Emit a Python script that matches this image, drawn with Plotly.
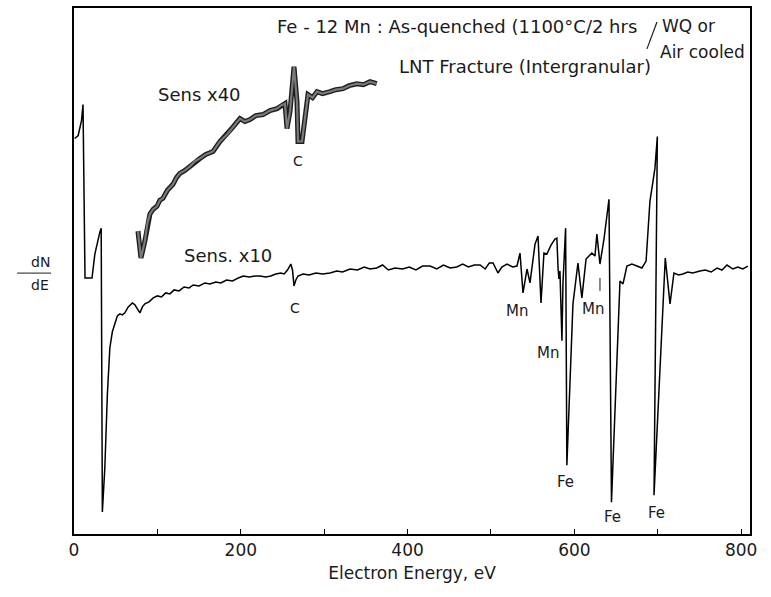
import plotly.graph_objects as go

# ---- Data (arbitrary dN/dE units) ----
# Lower trace: Sens. x10
x10_energy = [0.8, 5, 9, 10.8, 13.2, 21.6, 25, 28.8, 31, 32.6, 34, 37, 40, 43, 46, 49, 52, 55, 58, 61,
              65, 70, 73, 76, 79, 82, 85, 90, 95, 100, 105, 110, 115, 120, 126, 132, 138, 143, 150, 157,
              163, 170, 176, 183, 190, 197, 203, 210, 217, 223, 230, 236, 242, 248, 252, 256, 260, 262,
              263.8, 266, 268.6, 274.6, 282, 290, 298, 307, 315, 322, 331, 340, 348, 355, 363, 370, 377,
              385, 394, 402, 410, 418, 427, 435, 443, 451, 459, 466, 473, 480, 487, 493, 498, 502.5, 505,
              508.4, 513, 519.2, 526, 531.2, 534.8, 538.4, 543.2, 546.8, 552.8, 556.4, 560, 563.5, 567,
              572, 576.7, 579, 580.5, 581.5, 582.7, 585.1, 586.3, 589.5, 591, 598.3, 604.3, 609, 614,
              618, 621, 624.7, 627, 630.7, 635.5, 641.5, 644.5, 654.7, 658.3, 663, 669, 675, 681, 686,
              690.6, 696.6, 699.5, 695.5, 709, 714.7, 719.4, 725, 730, 736, 742, 750.6, 757, 764, 771,
              777, 783, 790, 796, 802, 808]
x10_signal = [397, 400, 415, 431, 257, 257, 281, 297, 303, 307, 22, 67, 140, 187, 203, 211, 219, 221, 220, 222,
              228, 232, 230, 226, 222, 228, 231, 233, 237, 239, 238, 242, 241, 245, 244, 248, 247, 250, 249, 252,
              251, 253, 252, 255, 254, 257, 259, 258, 259, 259, 258, 259, 261, 262, 261, 265, 271, 265,
              249, 255, 259, 261, 260, 262, 261, 262, 264, 263, 266, 265, 268, 266, 267, 270, 265,
              267, 266, 268, 265, 269, 269, 266, 270, 267, 268, 271, 268, 270, 270, 266, 272, 272, 268,
              262, 268, 271, 268, 269, 282, 242, 266, 252, 291, 299, 232, 282, 281,
              290, 296, 297, 266, 256, 264, 194, 251, 307, 69, 231, 272, 237, 276,
              280, 282, 279, 301, 271, 296, 336, 32, 254, 251, 269, 271, 269, 267, 274,
              334, 367, 399, 39, 277, 231, 262, 260, 261, 263, 262, 264, 265, 263, 267,
              265, 270, 266, 268, 266, 269]

# Upper trace: Sens x40
x40_energy = [76.7, 80.3, 85, 88, 91, 95, 99.5, 103, 106.7, 112, 118.7, 123, 127, 133, 139, 145, 151, 158,
              166.7, 175, 183.5, 190, 199, 205, 211, 218, 226.6, 235, 243.4, 248, 253, 255.4, 259, 263.8,
              267.4, 268.6, 273.4, 280.6, 286, 291.4, 298, 307, 314, 322.5, 330, 339, 347, 355, 363]
x40_signal = [304, 277, 294, 312, 321, 326, 329, 335, 337, 345, 351, 358, 362, 365, 369, 374, 377, 381,
              384, 394, 401, 408, 417, 414, 416, 420, 421, 425, 427, 430, 432, 407, 424, 469,
              434, 394, 394, 441, 438, 444, 442, 444, 446, 447, 450, 452, 451, 454, 452]

tick_values = [0, 100, 200, 300, 400, 500, 600, 700, 800]
tick_labels = ["0", "", "200", "", "400", "", "600", "", "800"]

# Peak labels: (text, energy, signal)
peak_labels = [("C", 268.6, 374), ("C", 265, 227), ("Mn", 531, 224), ("Mn", 568, 182),
               ("Mn", 622, 226), ("Fe", 589, 52), ("Fe", 646, 17), ("Fe", 698, 21)]

FONT = "DejaVu Sans"
INK = "#1a1a1a"

fig = go.Figure()
# noisy x40 band: dark edges with grey interior
fig.add_trace(go.Scatter(x=x40_energy, y=x40_signal, mode="lines",
                         line=dict(color="#1e1e1e", width=5), hoverinfo="skip", showlegend=False))
fig.add_trace(go.Scatter(x=x40_energy, y=x40_signal, mode="lines",
                         line=dict(color="#7a7a7a", width=2.2), showlegend=False))
fig.add_trace(go.Scatter(x=x10_energy, y=x10_signal, mode="lines",
                         line=dict(color="black", width=1.5), showlegend=False))

for txt, ex, ey in peak_labels:
    fig.add_annotation(x=ex, y=ey, text=txt, showarrow=False,
                       font=dict(family=FONT, size=15 if txt != "C" else 14, color=INK))

# small pointer for the Mn label near 630 eV
fig.add_shape(type="line", x0=630.7, x1=630.7, y0=244, y1=257,
              line=dict(color=INK, width=1))

fig.add_annotation(x=151, y=441, text="Sens x40", showarrow=False,
                   font=dict(family=FONT, size=18, color=INK))
fig.add_annotation(x=184.6, y=280, text="Sens. x10", showarrow=False,
                   font=dict(family=FONT, size=18, color=INK))

# Header texts (paper coordinates)
fig.add_annotation(xref="paper", yref="paper", x=0.297, y=0.964, xanchor="left", yanchor="middle",
                   text="Fe - 12 Mn : As-quenched (1100°C/2 hrs", showarrow=False,
                   font=dict(family=FONT, size=18, color=INK))
fig.add_shape(type="line", xref="paper", yref="paper", x0=0.8476, y0=0.9223, x1=0.8624, y1=0.9735,
              line=dict(color=INK, width=1.2))
fig.add_annotation(xref="paper", yref="paper", x=0.867, y=0.966, xanchor="left", yanchor="middle",
                   text="WQ or", showarrow=False, font=dict(family=FONT, size=17, color=INK))
fig.add_annotation(xref="paper", yref="paper", x=0.996, y=0.917, xanchor="right", yanchor="middle",
                   text="Air cooled", showarrow=False, font=dict(family=FONT, size=17, color=INK))
fig.add_annotation(xref="paper", yref="paper", x=0.478, y=0.888, xanchor="left", yanchor="middle",
                   text="LNT Fracture (Intergranular)", showarrow=False,
                   font=dict(family=FONT, size=18, color=INK))

# dN/dE fraction as y-axis label
fig.add_annotation(xref="paper", yref="paper", x=-0.066, y=0.518, text="dN", showarrow=False,
                   font=dict(family=FONT, size=14, color=INK))
fig.add_annotation(xref="paper", yref="paper", x=-0.066, y=0.474, text="dE", showarrow=False,
                   font=dict(family=FONT, size=14, color=INK))
fig.add_shape(type="line", xref="paper", yref="paper", x0=-0.084, x1=-0.034, y0=0.496, y1=0.496,
              line=dict(color=INK, width=1))

fig.update_layout(
    width=771, height=597,
    margin=dict(l=74, r=21, t=6, b=63),
    paper_bgcolor="white", plot_bgcolor="white",
    font=dict(family=FONT, color=INK),
    showlegend=False,
)
fig.update_xaxes(range=[0, 810.6], tickvals=tick_values, ticktext=tick_labels,
                 ticks="inside", ticklen=5, tickwidth=1, tickcolor="black",
                 showline=True, mirror=True, linecolor="black", linewidth=1.6,
                 showgrid=False, zeroline=False,
                 tickfont=dict(family=FONT, size=17, color=INK),
                 title=dict(text="Electron Energy, eV", font=dict(family=FONT, size=17, color=INK),
                            standoff=8))
fig.update_yaxes(range=[0, 528], showticklabels=False, ticks="",
                 showline=True, mirror=True, linecolor="black", linewidth=1.6,
                 showgrid=False, zeroline=False)

fig.write_html("out.html")
